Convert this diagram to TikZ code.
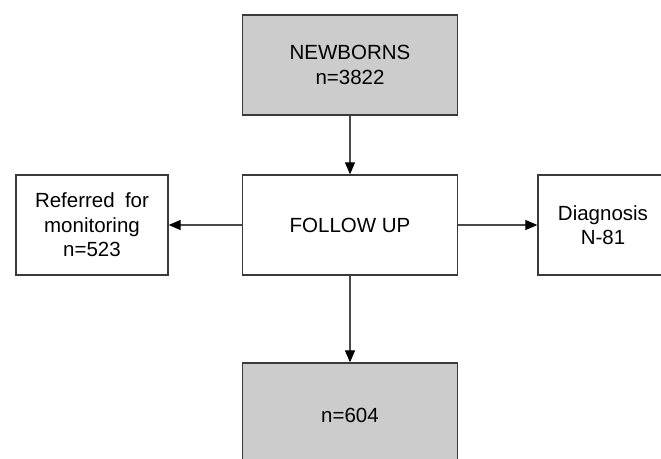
\documentclass[tikz,border=0pt]{standalone}
\usepackage{fontspec}
\setmainfont{Liberation Sans}
\usetikzlibrary{arrows.meta}
\definecolor{boxgray}{HTML}{CCCCCC}
\definecolor{edgegray}{HTML}{3A3A3A}
\definecolor{linegray}{HTML}{4A4A4A}
\tikzset{
  box/.style={draw=edgegray, line width=1.3pt, rectangle, inner sep=0pt, align=center,
    font=\fontsize{20.5}{24.5}\selectfont, text=black},
  shaded/.style={box, fill=boxgray},
  conn/.style={draw=linegray, line width=1.2pt,
    -{Triangle[length=12pt,width=10pt,fill=black,color=black]}}
}
\begin{document}
\begin{tikzpicture}[x=1pt,y=1pt]
\useasboundingbox (0,0) rectangle (661,-458);
\node[shaded, minimum width=214.5pt, minimum height=100pt] (newborns) at (350,-65) {NEWBORNS\\n=3822};
\node[box, minimum width=214.5pt, minimum height=100pt] (follow) at (350,-225) {FOLLOW UP};
\node[box, minimum width=152pt, minimum height=100pt] (referred) at (92,-225) {Referred\hspace{0.5em}for\\monitoring\\n=523};
\node[box, minimum width=130pt, minimum height=100pt] (diag) at (603,-225) {Diagnosis\\N-81};
\node[shaded, minimum width=214.5pt, minimum height=104pt] (final) at (350,-415) {n=604};
\draw[conn] (newborns.south) -- (follow.north);
\draw[conn] (follow.west) -- (referred.east);
\draw[conn] (follow.east) -- (diag.west);
\draw[conn] (follow.south) -- (final.north);
\end{tikzpicture}
\end{document}
